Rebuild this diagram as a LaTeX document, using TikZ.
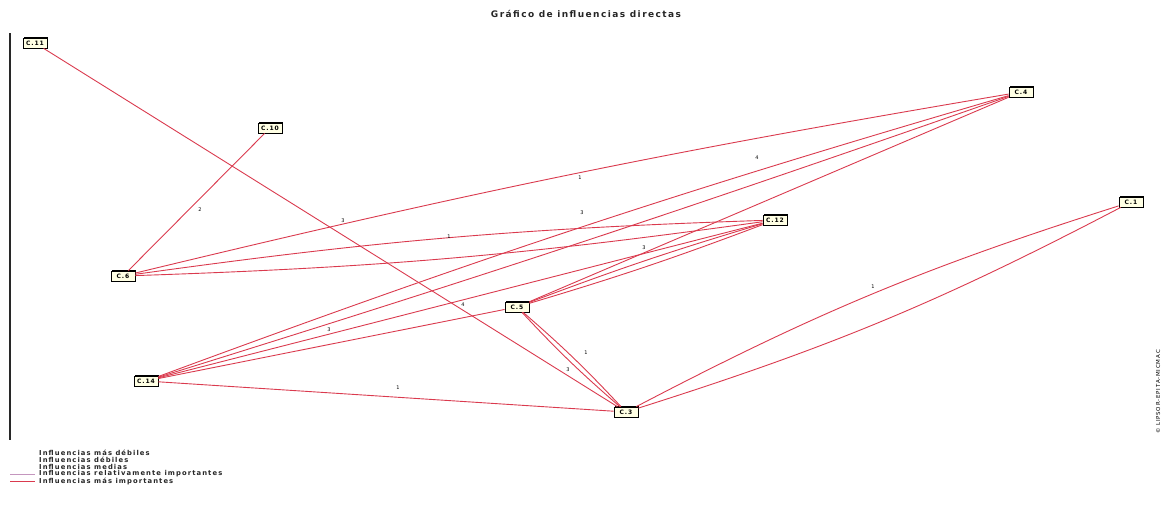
\documentclass[tikz,border=0pt]{standalone}
\usepackage{fontspec}
\setmainfont{Liberation Sans}
\newfontfamily\micfont[LetterSpace=15]{DejaVu Sans}
\newfontfamily\micbold[LetterSpace=16]{DejaVu Sans Bold}
\usetikzlibrary{shadows}
\definecolor{micred}{RGB}{218,58,78}
\definecolor{micpink}{RGB}{196,150,190}
\definecolor{boxfill}{RGB}{255,255,228}
\definecolor{axisgray}{RGB}{40,40,40}
\tikzset{
  nbox/.style={draw=black, line width=0.8pt, fill=boxfill, inner sep=1.2pt,
    minimum width=24pt, minimum height=10pt, font=\micfont\fontsize{6}{6.5}\selectfont\bfseries,
    drop shadow={shadow xshift=1.3pt, shadow yshift=1.3pt, fill=black, opacity=1}},
  infl/.style={draw=micred, line width=0.9pt},
  lbl/.style={font=\micfont\fontsize{5}{5.5}\selectfont, inner sep=0.5pt, text=black},
  legtxt/.style={font=\micbold\fontsize{6.8}{7}\selectfont, anchor=west, inner sep=0pt, text=black!85},
}
\begin{document}
\begin{tikzpicture}[x=1pt,y=-1pt]
\useasboundingbox (0,0) rectangle (1173,512);
% title
\node[font=\micbold\fontsize{9}{9.5}\selectfont, text=black!85] (title) at (586,14) {Gráfico de influencias directas};
% axis
\coordinate (axt) at (10,33);
\coordinate (axb) at (10,440);
\draw[axisgray, line width=1.3pt] (axt) -- (axb);
% nodes
\node[nbox] (c11) at (35,43) {C.11};
\node[nbox] (c10) at (270,128) {C.10};
\node[nbox] (c4) at (1021,92) {C.4};
\node[nbox] (c12) at (775,220) {C.12};
\node[nbox] (c6) at (123,276) {C.6};
\node[nbox] (c5) at (517,307) {C.5};
\node[nbox] (c14) at (146,381) {C.14};
\node[nbox] (c3) at (626,412) {C.3};
\node[nbox] (c1) at (1131,202) {C.1};
% edges
\draw[infl] (c11) -- (c3);
\draw[infl] (c10) -- (c6);
\draw[infl] (c6) to[bend left=2] (c4);
\draw[infl] (c6) to[bend left=3] (c12);
\draw[infl] (c6) to[bend right=3] (c12);
\draw[infl] (c14) to[bend left=2] (c4);
\draw[infl] (c14) to[bend right=1] (c4);
\draw[infl] (c14) -- (c12);
\draw[infl] (c14) -- (c5);
\draw[infl] (c14) -- (c3);
\draw[infl] (c4) -- (c5);
\draw[infl] (c5) to[bend left=2] (c12);
\draw[infl] (c5) to[bend right=2] (c12);
\draw[infl] (c5) to[bend left=3] (c3);
\draw[infl] (c5) to[bend right=3] (c3);
\draw[infl] (c3) to[bend left=5] (c1);
\draw[infl] (c3) to[bend right=5] (c1);
% labels
\node[lbl] (l1) at (463,305) {4};
\node[lbl] (l2) at (200,210) {2};
\node[lbl] (l3) at (580,178) {1};
\node[lbl] (l4) at (343,221) {3};
\node[lbl] (l5) at (449,237) {1};
\node[lbl] (l6) at (757,158) {4};
\node[lbl] (l7) at (582,213) {3};
\node[lbl] (l8) at (644,248) {3};
\node[lbl] (l9) at (329,330) {3};
\node[lbl] (l10) at (398,388) {1};
\node[lbl] (l11) at (586,353) {1};
\node[lbl] (l12) at (568,370) {3};
\node[lbl] (l13) at (873,287) {1};
% side text
\node[font=\micfont\fontsize{5.5}{6}\selectfont, rotate=90] (side) at (1158,392) {© LIPSOR-EPITA-MICMAC};
% legend
\node[legtxt] (g1) at (39,453) {Influencias más débiles};
\node[legtxt] (g2) at (39,460) {Influencias débiles};
\node[legtxt] (g3) at (39,467) {Influencias medias};
\node[legtxt] (g4) at (39,474) {Influencias relativamente importantes};
\node[legtxt] (g5) at (39,481) {Influencias más importantes};
\coordinate (s4) at (10,474);
\coordinate (s5) at (10,481);
\coordinate (e4) at (35,474);
\coordinate (e5) at (35,481);
\draw[micpink, line width=0.8pt] (s4) -- (e4);
\draw[micred, line width=1pt] (s5) -- (e5);
\end{tikzpicture}
\end{document}
